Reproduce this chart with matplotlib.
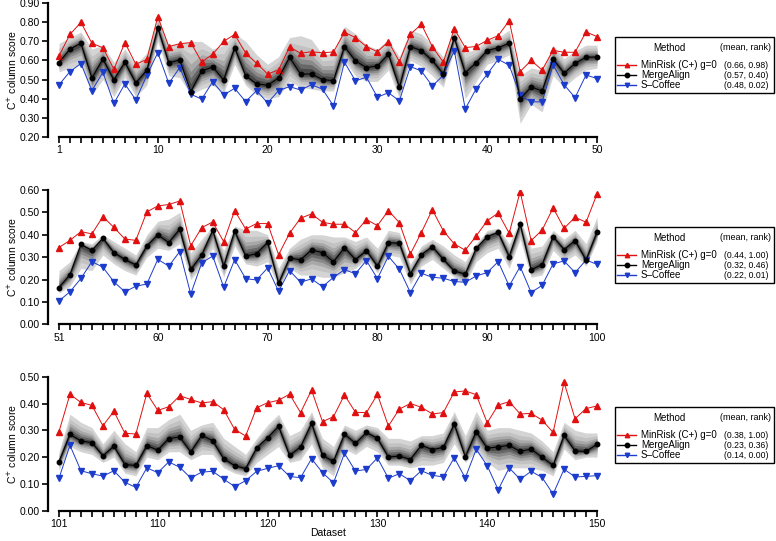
import numpy as np
import matplotlib
matplotlib.use("Agg")
import matplotlib.pyplot as plt
from matplotlib.lines import Line2D
from matplotlib.patches import Rectangle

plt.rcParams['font.family'] = ['Liberation Sans', 'DejaVu Sans']

methods = ['MinRisk (C+) g=0', 'MergeAlign', 'S\u2013Coffee']

# ---- panel 1 : datasets 1-50
p1_ds = np.arange(1, 51)
p1_minrisk = [0.624, 0.737, 0.80, 0.69, 0.667, 0.554, 0.694, 0.58, 0.606, 0.83,
              0.673, 0.688, 0.694, 0.592, 0.633, 0.70, 0.737, 0.638, 0.585, 0.529,
              0.55, 0.671, 0.638, 0.646, 0.64, 0.645, 0.748, 0.72, 0.673, 0.646,
              0.699, 0.594, 0.737, 0.79, 0.673, 0.591, 0.767, 0.667, 0.674, 0.706,
              0.73, 0.809, 0.542, 0.60, 0.55, 0.653, 0.643, 0.643, 0.75, 0.725]
p1_merge = [0.589, 0.66, 0.69, 0.507, 0.608, 0.498, 0.591, 0.482, 0.549, 0.771,
            0.587, 0.603, 0.437, 0.545, 0.566, 0.498, 0.667, 0.52, 0.477, 0.47,
            0.508, 0.617, 0.529, 0.529, 0.50, 0.494, 0.673, 0.598, 0.563, 0.571,
            0.633, 0.459, 0.673, 0.652, 0.60, 0.529, 0.72, 0.535, 0.589, 0.652,
            0.667, 0.69, 0.398, 0.461, 0.44, 0.608, 0.533, 0.585, 0.617, 0.618]
p1_scoffee = [0.472, 0.542, 0.584, 0.442, 0.538, 0.375, 0.477, 0.393, 0.522, 0.641,
              0.48, 0.563, 0.423, 0.397, 0.489, 0.419, 0.454, 0.384, 0.442, 0.377,
              0.442, 0.463, 0.445, 0.473, 0.449, 0.362, 0.591, 0.493, 0.512, 0.407,
              0.431, 0.388, 0.568, 0.545, 0.466, 0.522, 0.652, 0.346, 0.452, 0.528,
              0.606, 0.575, 0.417, 0.383, 0.383, 0.577, 0.473, 0.405, 0.524, 0.505]
p1_band_hi = [0.69, 0.72, 0.75, 0.66, 0.68, 0.59, 0.66, 0.58, 0.64, 0.83,
              0.68, 0.69, 0.70, 0.70, 0.66, 0.68, 0.74, 0.70, 0.63, 0.58,
              0.62, 0.72, 0.73, 0.71, 0.63, 0.64, 0.78, 0.74, 0.68, 0.66,
              0.71, 0.62, 0.76, 0.74, 0.68, 0.62, 0.77, 0.64, 0.66, 0.71,
              0.72, 0.76, 0.52, 0.56, 0.55, 0.68, 0.61, 0.65, 0.68, 0.68]
p1_band_lo = [0.54, 0.56, 0.58, 0.42, 0.50, 0.41, 0.51, 0.41, 0.47, 0.70,
              0.52, 0.51, 0.42, 0.45, 0.47, 0.43, 0.58, 0.47, 0.42, 0.40,
              0.41, 0.49, 0.46, 0.45, 0.44, 0.44, 0.60, 0.52, 0.49, 0.49,
              0.55, 0.40, 0.60, 0.57, 0.52, 0.46, 0.66, 0.40, 0.49, 0.58,
              0.60, 0.63, 0.27, 0.37, 0.33, 0.52, 0.46, 0.51, 0.55, 0.56]
p1_stats = ['(0.66, 0.98)', '(0.57, 0.40)', '(0.48, 0.02)']

# ---- panel 2 : datasets 51-100
p2_ds = np.arange(51, 101)
p2_minrisk = [0.343, 0.375, 0.414, 0.404, 0.481, 0.433, 0.381, 0.375, 0.502, 0.529,
              0.535, 0.551, 0.351, 0.432, 0.457, 0.369, 0.508, 0.426, 0.45, 0.45,
              0.311, 0.407, 0.474, 0.493, 0.456, 0.447, 0.447, 0.41, 0.468, 0.441,
              0.508, 0.454, 0.314, 0.41, 0.512, 0.418, 0.359, 0.331, 0.395, 0.463,
              0.497, 0.407, 0.593, 0.374, 0.421, 0.52, 0.429, 0.478, 0.456, 0.582]
p2_merge = [0.164, 0.222, 0.357, 0.33, 0.385, 0.32, 0.29, 0.265, 0.35, 0.40,
            0.365, 0.425, 0.245, 0.31, 0.42, 0.26, 0.417, 0.304, 0.316, 0.366,
            0.183, 0.296, 0.288, 0.332, 0.32, 0.279, 0.343, 0.289, 0.329, 0.259,
            0.365, 0.362, 0.226, 0.311, 0.347, 0.29, 0.238, 0.224, 0.34, 0.392,
            0.411, 0.302, 0.448, 0.243, 0.267, 0.392, 0.334, 0.374, 0.287, 0.412]
p2_scoffee = [0.105, 0.145, 0.205, 0.28, 0.255, 0.19, 0.145, 0.17, 0.18, 0.29,
              0.26, 0.325, 0.135, 0.275, 0.305, 0.166, 0.289, 0.204, 0.198, 0.252,
              0.148, 0.24, 0.188, 0.203, 0.168, 0.21, 0.244, 0.226, 0.285, 0.204,
              0.304, 0.246, 0.142, 0.228, 0.21, 0.206, 0.191, 0.188, 0.216, 0.231,
              0.28, 0.171, 0.258, 0.142, 0.174, 0.27, 0.283, 0.231, 0.287, 0.268]
p2_band_hi = [0.24, 0.28, 0.37, 0.36, 0.40, 0.37, 0.34, 0.31, 0.40, 0.46,
              0.47, 0.50, 0.32, 0.38, 0.44, 0.33, 0.44, 0.42, 0.42, 0.40,
              0.25, 0.34, 0.38, 0.40, 0.40, 0.39, 0.39, 0.37, 0.39, 0.34,
              0.42, 0.41, 0.27, 0.35, 0.38, 0.35, 0.31, 0.28, 0.36, 0.42,
              0.43, 0.36, 0.47, 0.34, 0.35, 0.42, 0.38, 0.42, 0.36, 0.48]
p2_band_lo = [0.14, 0.17, 0.25, 0.24, 0.31, 0.27, 0.24, 0.22, 0.30, 0.34,
              0.33, 0.36, 0.20, 0.26, 0.34, 0.21, 0.35, 0.27, 0.26, 0.28,
              0.16, 0.25, 0.22, 0.22, 0.21, 0.21, 0.23, 0.25, 0.29, 0.23,
              0.31, 0.30, 0.18, 0.26, 0.29, 0.25, 0.21, 0.18, 0.28, 0.32,
              0.34, 0.25, 0.38, 0.21, 0.22, 0.33, 0.28, 0.31, 0.26, 0.37]
p2_stats = ['(0.44, 1.00)', '(0.32, 0.46)', '(0.22, 0.01)']

# ---- panel 3 : datasets 101-150
p3_ds = np.arange(101, 151)
p3_minrisk = [0.295, 0.434, 0.404, 0.393, 0.317, 0.371, 0.289, 0.286, 0.438, 0.374,
              0.388, 0.429, 0.415, 0.402, 0.407, 0.377, 0.303, 0.279, 0.384, 0.403,
              0.412, 0.435, 0.366, 0.45, 0.332, 0.351, 0.432, 0.367, 0.366, 0.434,
              0.316, 0.379, 0.40, 0.386, 0.361, 0.366, 0.443, 0.447, 0.433, 0.328,
              0.394, 0.407, 0.361, 0.363, 0.338, 0.292, 0.479, 0.343, 0.381, 0.391]
p3_merge = [0.183, 0.285, 0.26, 0.254, 0.205, 0.241, 0.172, 0.169, 0.243, 0.226,
            0.269, 0.275, 0.219, 0.281, 0.261, 0.194, 0.168, 0.157, 0.234, 0.272,
            0.315, 0.206, 0.238, 0.326, 0.206, 0.184, 0.286, 0.251, 0.292, 0.27,
            0.20, 0.204, 0.191, 0.244, 0.228, 0.236, 0.323, 0.201, 0.295, 0.233,
            0.238, 0.244, 0.221, 0.23, 0.199, 0.169, 0.281, 0.223, 0.221, 0.248]
p3_scoffee = [0.121, 0.244, 0.149, 0.138, 0.129, 0.149, 0.106, 0.087, 0.16, 0.142,
              0.182, 0.162, 0.122, 0.144, 0.147, 0.118, 0.09, 0.112, 0.147, 0.158,
              0.168, 0.128, 0.123, 0.194, 0.142, 0.104, 0.214, 0.148, 0.154, 0.197,
              0.121, 0.138, 0.112, 0.149, 0.132, 0.126, 0.198, 0.122, 0.229, 0.168,
              0.078, 0.16, 0.117, 0.147, 0.124, 0.062, 0.155, 0.126, 0.128, 0.131]
p3_band_hi = [0.22, 0.36, 0.33, 0.31, 0.25, 0.30, 0.25, 0.22, 0.31, 0.31,
              0.34, 0.36, 0.30, 0.32, 0.33, 0.27, 0.24, 0.21, 0.27, 0.32,
              0.36, 0.28, 0.30, 0.37, 0.27, 0.24, 0.32, 0.30, 0.32, 0.31,
              0.27, 0.27, 0.26, 0.28, 0.28, 0.29, 0.37, 0.28, 0.37, 0.30,
              0.31, 0.31, 0.30, 0.29, 0.26, 0.22, 0.33, 0.30, 0.29, 0.29]
p3_band_lo = [0.15, 0.24, 0.22, 0.21, 0.18, 0.20, 0.14, 0.13, 0.20, 0.19,
              0.22, 0.22, 0.19, 0.21, 0.21, 0.16, 0.14, 0.13, 0.18, 0.21,
              0.24, 0.18, 0.19, 0.25, 0.16, 0.13, 0.23, 0.21, 0.24, 0.22,
              0.17, 0.17, 0.16, 0.17, 0.17, 0.18, 0.25, 0.18, 0.22, 0.18,
              0.15, 0.16, 0.16, 0.16, 0.15, 0.13, 0.23, 0.19, 0.20, 0.20]
p3_stats = ['(0.38, 1.00)', '(0.23, 0.36)', '(0.14, 0.00)']

panels = [
    (p1_ds, p1_minrisk, p1_merge, p1_scoffee, p1_band_lo, p1_band_hi, p1_stats,
     (0.2, 0.9), [1, 10, 20, 30, 40, 50]),
    (p2_ds, p2_minrisk, p2_merge, p2_scoffee, p2_band_lo, p2_band_hi, p2_stats,
     (0.0, 0.6), [51, 60, 70, 80, 90, 100]),
    (p3_ds, p3_minrisk, p3_merge, p3_scoffee, p3_band_lo, p3_band_hi, p3_stats,
     (0.0, 0.5), [101, 110, 120, 130, 140, 150]),
]

W, H = 776, 541
fig = plt.figure(figsize=(W / 100, H / 100), dpi=100)

# axes boxes in pixels: (top, bottom)
ax_px = [(3.3, 136.7), (190.0, 324.3), (376.7, 510.7)]
legend_top = [37, 227, 407]
ax_left, ax_right = 48, 608

red, black, blue = '#e01010', '#000000', '#1c3ccc'
band_fracs = [1.0, 0.75, 0.55, 0.4, 0.27, 0.15]
band_cols = ['#d4d4d4', '#c2c2c2', '#a8a8a8', '#8a8a8a', '#686868', '#474747']

fs = 7.5
for i, (ds, mr, ma, sc, lo, hi, stats, ylim, xlab) in enumerate(panels):
    top, bot = ax_px[i]
    ax = fig.add_axes([ax_left / W, 1 - bot / H, (ax_right - ax_left) / W, (bot - top) / H])
    ma_a = np.array(ma)
    lo_a, hi_a = np.array(lo), np.array(hi)
    for f, c in zip(band_fracs, band_cols):
        ax.fill_between(ds, ma_a - f * (ma_a - lo_a), ma_a + f * (hi_a - ma_a),
                        color=c, lw=0, zorder=1)
    ax.plot(ds, sc, color=blue, lw=0.7, marker='v', ms=3.8, zorder=3)
    ax.plot(ds, mr, color=red, lw=0.7, marker='^', ms=3.8, zorder=3)
    ax.plot(ds, ma, color=black, lw=0.8, marker='o', ms=3.2, zorder=4)

    ax.set_xlim(ds[0] - 1, ds[-1] + 1)
    ax.set_ylim(*ylim)
    for s in ['top', 'right']:
        ax.spines[s].set_visible(False)
    ax.spines['left'].set_bounds(*ylim)
    ax.spines['bottom'].set_bounds(ds[0], ds[-1])
    ax.spines['left'].set_linewidth(1.6)
    ax.spines['bottom'].set_linewidth(1.6)
    ax.set_xticks(ds)
    ax.set_xticklabels([str(d) if d in xlab else '' for d in ds])
    yt = np.arange(ylim[0], ylim[1] + 1e-9, 0.1)
    ax.set_yticks(yt)
    ax.set_yticklabels(['%.2f' % v for v in yt])
    ax.tick_params(direction='out', length=4, width=1.2, labelsize=fs, pad=2)
    ax.set_ylabel('C$^{+}$ column score', fontsize=fs)
    ax.yaxis.set_label_coords((19 - ax_left) / (ax_right - ax_left), 0.5)
    if i == 2:
        ax.set_xlabel('Dataset', fontsize=fs)
        ax.xaxis.set_label_coords(0.5, -(528 - bot) / (bot - top))

    # legend box drawn by hand
    T = legend_top[i]
    tr = fig.transFigure
    fig.patches.append(Rectangle((615 / W, 1 - (T + 56) / H), 159 / W, 56 / H,
                                 transform=tr, fill=False, ec='black', lw=1.0))
    fig.text(669 / W, 1 - (T + 11) / H, 'Method', ha='center', va='center', fontsize=7)
    fig.text(745 / W, 1 - (T + 11) / H, '(mean, rank)', ha='center', va='center', fontsize=6.5)
    styles = [(red, '^'), (black, 'o'), (blue, 'v')]
    for j, (name, st) in enumerate(zip(methods, stats)):
        y = 1 - (T + 28 + 10 * j) / H
        fig.lines.append(Line2D([617 / W, 636 / W], [y, y], transform=tr,
                                color=styles[j][0], lw=1.0))
        fig.lines.append(Line2D([626.5 / W], [y], transform=tr, color=styles[j][0],
                                marker=styles[j][1], ms=3.2))
        fig.text(641 / W, y, name, ha='left', va='center', fontsize=7)
        fig.text(768 / W, y, st, ha='right', va='center', fontsize=6.2)

fig.savefig('out.png', dpi=100)
